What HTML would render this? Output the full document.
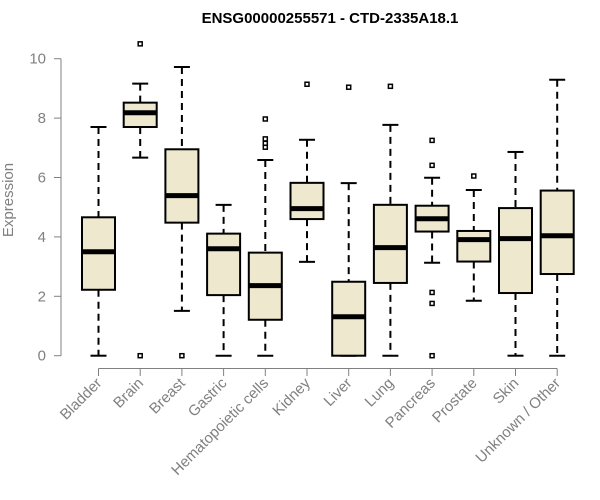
<!DOCTYPE html>
<html><head><meta charset="utf-8"><style>
body{margin:0;background:#fff;}
svg{display:block;font-family:"Liberation Sans",Arial,sans-serif;}
</style></head><body>
<svg id="chart" width="600" height="500">
<text x="330" y="23" text-anchor="middle" font-weight="bold" font-size="15" fill="#000">ENSG00000255571 - CTD-2335A18.1</text>
<text transform="translate(13,200) rotate(-90)" text-anchor="middle" font-size="15" fill="#808080">Expression</text>
<g id="axes"></g><g id="boxes"></g>
</svg>
<script>
const categories=["Bladder","Brain","Breast","Gastric","Hematopoietic cells","Kidney","Liver","Lung","Pancreas","Prostate","Skin","Unknown / Other"];
const whiskerLow=[0,6.67,1.51,0,0,3.16,0,0,3.13,1.85,0,0];
const q1=[2.22,7.70,4.48,2.04,1.21,4.60,0,2.45,4.18,3.17,2.11,2.75];
const medians=[3.50,8.18,5.39,3.60,2.36,4.95,1.31,3.64,4.61,3.91,3.94,4.04];
const q3=[4.66,8.52,6.95,4.11,3.47,5.82,2.49,5.08,5.05,4.20,4.97,5.56];
const whiskerHigh=[7.70,9.16,9.72,5.08,6.59,7.27,5.81,7.77,5.99,5.58,6.86,9.29];
const outliers=[[],[10.5,0],[0],[],[7.97,7.30,7.15,7.02],[9.14],[9.04],[9.07],[7.25,6.41,2.13,1.76,0],[6.05],[],[]];
const yTicks=[0,2,4,6,8,10];
const NS="http://www.w3.org/2000/svg";
const y=v=>355.7-v*29.7;
const x=i=>98.5+i*41.7;
function mk(tag,attrs,parent){const e=document.createElementNS(NS,tag);for(const k in attrs)e.setAttribute(k,attrs[k]);parent.appendChild(e);return e;}
const ax=document.getElementById('axes'),bx=document.getElementById('boxes');
let l=mk('line',{x1:61,x2:61,y1:y(0),y2:y(10),stroke:'#808080','stroke-width':1},ax);


yTicks.forEach(t=>{
  let tk=mk('line',{x1:54,x2:61,y1:y(t),y2:y(t),stroke:'#808080'},ax);
  
  
  let tx=mk('text',{x:46,y:y(t)+5,'text-anchor':'end','font-size':15,fill:'#808080'},ax);
  tx.textContent=t;
  
  
});
l=mk('line',{x1:x(0),x2:x(categories.length-1),y1:368.5,y2:368.5,stroke:'#808080'},ax);


categories.forEach((c,i)=>{
  const cx=x(i);
  let tk=mk('line',{x1:cx,x2:cx,y1:368.5,y2:376,stroke:'#808080'},ax);
  
  
  let tx=mk('text',{transform:`translate(${cx+4},384) rotate(-45)`,'text-anchor':'end','font-size':15,fill:'#808080'},ax);
  tx.textContent=c;
  
  
  const g=mk('g',{},bx);
  
  
  mk('line',{x1:cx,x2:cx,y1:y(whiskerHigh[i]),y2:y(q3[i]),stroke:'#000','stroke-width':2,'stroke-dasharray':'7,5'},g);
  mk('line',{x1:cx,x2:cx,y1:y(q1[i]),y2:y(whiskerLow[i]),stroke:'#000','stroke-width':2,'stroke-dasharray':'7,5'},g);
  mk('line',{x1:cx-8,x2:cx+8,y1:y(whiskerHigh[i]),y2:y(whiskerHigh[i]),stroke:'#000','stroke-width':2},g);
  mk('line',{x1:cx-8,x2:cx+8,y1:y(whiskerLow[i]),y2:y(whiskerLow[i]),stroke:'#000','stroke-width':2},g);
  mk('rect',{x:cx-16.5,y:y(q3[i]),width:33,height:y(q1[i])-y(q3[i]),fill:'#ede8ce',stroke:'#000','stroke-width':2},g);
  mk('line',{x1:cx-16.5,x2:cx+16.5,y1:y(medians[i]),y2:y(medians[i]),stroke:'#000','stroke-width':5},g);
  outliers[i].forEach(o=>{mk('rect',{x:cx-2,y:y(o)-2,width:4,height:4,fill:'none',stroke:'#000','stroke-width':1.5},g);});
});
</script>
</body></html>
